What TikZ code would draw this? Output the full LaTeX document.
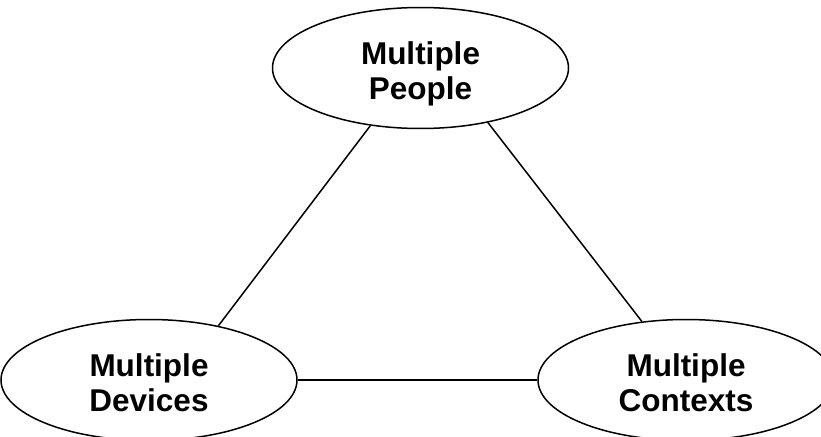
\documentclass[tikz,border=0pt]{standalone}
\usepackage{fontspec}
\setmainfont{Liberation Sans}
\usetikzlibrary{shapes.geometric}
\newcommand{\ovaltext}[2]{\raisebox{-6.5pt}[\height][\depth]{\setlength{\tabcolsep}{0pt}\begin{tabular}{c}#1\\#2\end{tabular}}}
\begin{document}
\begin{tikzpicture}[x=1pt,y=-1pt,
  oval/.style={draw=black, line width=1.5pt, ellipse, minimum width=296pt, minimum height=121pt, inner sep=0pt,
    font=\fontsize{31.5}{35}\selectfont\bfseries},
  link/.style={draw=black, line width=1.5pt}]
\useasboundingbox (0,0) rectangle (821,436);
\node[oval] (people) at (420.5,68) {\ovaltext{Multiple}{People}};
\node[oval] (devices) at (149,380) {\ovaltext{Multiple}{Devices}};
\node[oval] (contexts) at (686,380) {\ovaltext{Multiple}{Contexts}};
\draw[link] (people.229.4) -- (devices.38);
\draw[link] (people.321.8) -- (contexts.127.2);
\draw[link] (devices.east) -- (contexts.west);
\end{tikzpicture}
\end{document}
